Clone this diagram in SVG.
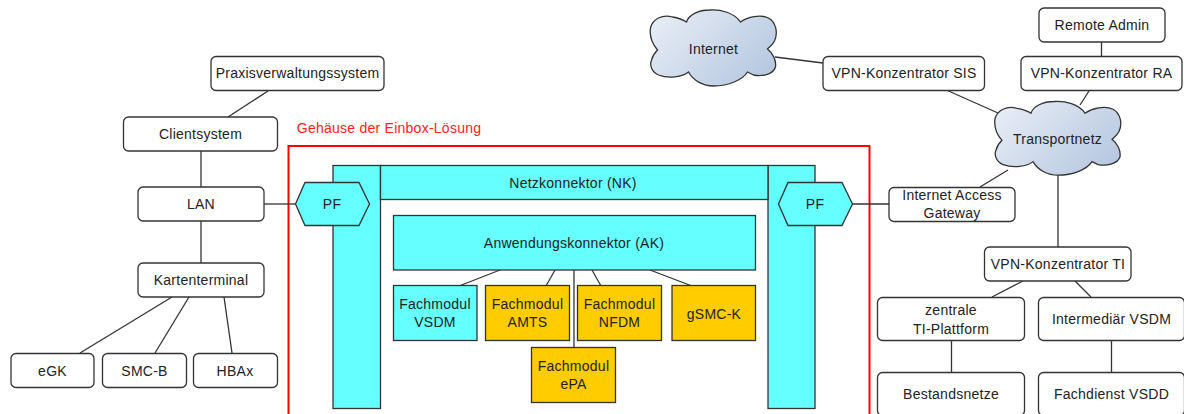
<svg xmlns="http://www.w3.org/2000/svg" width="1184" height="414" viewBox="0 0 1184 414">
<style>
text{font-family:"Liberation Sans",Arial,sans-serif;font-size:14px;letter-spacing:.25px;fill:#222;text-anchor:middle}
.n{fill:#fff;stroke:#333;stroke-width:1.3}
.c{fill:#66ffff;stroke:#333;stroke-width:1.3}
.o{fill:#ffcc00;stroke:#333;stroke-width:1.3}
.k{fill:url(#cg);stroke:#333;stroke-width:1.3}
#connectors line{stroke:#333;stroke-width:1.3}
</style>
<defs>
<linearGradient id="cg" x1="0" y1="0.2" x2="1" y2="0.8"><stop offset="0" stop-color="#e6ecf5"/><stop offset="1" stop-color="#b5c7e0"/></linearGradient>
<path id="cloud" d="M7 40C1 33-1 25 0 18C2 9 12 4 22 7C28 8 33 10 36 12C38 5 48 0 59 0C70-1 84 3 90 12C97 7 110 4 118 8C125 12 128 22 124 31C122 35 119 37 117 39C122 43 126 50 125 57C123 64 112 67 103 65C101 64 99 63 97 62C92 70 78 76 63 76C53 76 43 71 38 62C32 67 18 69 8 65C1 62-1 55 1 50C2 46 4 43 7 40Z"/>
</defs>
<rect width="1184" height="414" fill="#fff"/>
<g id="gehaeuse">
<rect x="288.500" y="146" width="581" height="280" fill="#fff" stroke="#ff0000" stroke-width="2"/>
<text x="389" y="133" style="fill:#ff2020">Gehäuse der Einbox-Lösung</text>
</g>
<g id="connectors">
<line x1="268" y1="91" x2="228" y2="117"/>
<line x1="201" y1="151" x2="201" y2="187"/>
<line x1="201" y1="221" x2="201" y2="263"/>
<line x1="264" y1="204" x2="296" y2="204"/>
<line x1="172" y1="297" x2="80" y2="353"/>
<line x1="189" y1="297" x2="155" y2="353"/>
<line x1="224" y1="297" x2="232" y2="353"/>
<line x1="500" y1="270" x2="459" y2="286"/>
<line x1="555" y1="270" x2="546" y2="286"/>
<line x1="592" y1="270" x2="601" y2="286"/>
<line x1="650" y1="270" x2="692" y2="286"/>
<line x1="574" y1="270" x2="574" y2="348"/>
<line x1="852" y1="204" x2="889" y2="204"/>
<line x1="775" y1="57" x2="823" y2="63"/>
<line x1="944" y1="89" x2="998" y2="113"/>
<line x1="1089" y1="91" x2="1080" y2="105"/>
<line x1="1101.500" y1="42" x2="1101.500" y2="56"/>
<line x1="1008" y1="170" x2="980" y2="187"/>
<line x1="1058" y1="174" x2="1058" y2="247"/>
<line x1="1023" y1="281" x2="992" y2="297"/>
<line x1="1075" y1="281" x2="1091" y2="297"/>
<line x1="951.500" y1="341" x2="951.500" y2="373"/>
<line x1="1111.500" y1="341" x2="1111.500" y2="373"/>
</g>
<g id="praxis"><rect class="n" x="211" y="56.500" width="173" height="34" rx="5"/><text x="297.500" y="78">Praxisverwaltungssystem</text></g>
<g id="client"><rect class="n" x="123.500" y="117" width="154" height="34" rx="5"/><text x="200.500" y="139">Clientsystem</text></g>
<g id="lan"><rect class="n" x="138" y="187" width="126" height="34" rx="5"/><text x="201" y="209">LAN</text></g>
<g id="kt"><rect class="n" x="138" y="263" width="126" height="34" rx="5"/><text x="201" y="285">Kartenterminal</text></g>
<g id="egk"><rect class="n" x="11" y="353.500" width="83" height="34" rx="5"/><text x="52.500" y="376">eGK</text></g>
<g id="smcb"><rect class="n" x="102.500" y="353.500" width="84" height="34" rx="5"/><text x="144.500" y="376">SMC-B</text></g>
<g id="hba"><rect class="n" x="193.500" y="353.500" width="84" height="34" rx="5"/><text x="235" y="376">HBAx</text></g>
<g id="nk">
<rect class="c" x="333" y="165.500" width="47.500" height="243"/>
<rect class="c" x="768" y="165.500" width="47" height="243"/>
<rect class="c" x="380.500" y="165.500" width="387.500" height="34"/>
<text x="573" y="188">Netzkonnektor (NK)</text>
</g>
<g id="pf-left"><polygon class="c" points="305,182.500 359,182.500 369.500,204 359,225.500 305,225.500 295.500,204"/><text x="332" y="209">PF</text></g>
<g id="pf-right"><polygon class="c" points="788,182.500 842,182.500 852.500,204 842,225.500 788,225.500 778.500,204"/><text x="815" y="209">PF</text></g>
<g id="ak"><rect class="c" x="393.500" y="215.500" width="362" height="54.500"/><text x="574" y="248">Anwendungskonnektor (AK)</text></g>
<g id="vsdm"><rect class="c" x="393.500" y="285.500" width="83.500" height="55"/><text x="435" y="309">Fachmodul</text><text x="435" y="327">VSDM</text></g>
<g id="amts"><rect class="o" x="485.500" y="285.500" width="84" height="55"/><text x="527.500" y="309">Fachmodul</text><text x="527.500" y="327">AMTS</text></g>
<g id="nfdm"><rect class="o" x="577.500" y="285.500" width="84" height="55"/><text x="619.500" y="309">Fachmodul</text><text x="619.500" y="327">NFDM</text></g>
<g id="gsmc"><rect class="o" x="672" y="285.500" width="83.500" height="55"/><text x="714" y="319">gSMC-K</text></g>
<g id="epa"><rect class="o" x="531.500" y="347.500" width="84" height="55"/><text x="573.500" y="371">Fachmodul</text><text x="573.500" y="389">ePA</text></g>
<g id="internet"><use href="#cloud" class="k" transform="translate(650.500 10)"/><text x="713.500" y="54">Internet</text></g>
<g id="transport"><use href="#cloud" class="k" transform="translate(995 101.500) scale(1 .97)"/><text x="1057.500" y="144">Transportnetz</text></g>
<g id="sis"><rect class="n" x="823" y="56.500" width="161.500" height="34" rx="5"/><text x="904" y="78">VPN-Konzentrator SIS</text></g>
<g id="ra"><rect class="n" x="1021" y="56.500" width="161" height="34" rx="5"/><text x="1101.500" y="78">VPN-Konzentrator RA</text></g>
<g id="remote"><rect class="n" x="1039" y="8" width="126" height="34" rx="5"/><text x="1102" y="30">Remote Admin</text></g>
<g id="iag"><rect class="n" x="889" y="187.500" width="126" height="34" rx="5"/><text x="952" y="200">Internet Access</text><text x="952" y="218">Gateway</text></g>
<g id="vpnti"><rect class="n" x="984.500" y="247" width="146.500" height="34" rx="5"/><text x="1058" y="269">VPN-Konzentrator TI</text></g>
<g id="zti"><rect class="n" x="877.500" y="297.500" width="147" height="43" rx="5"/><text x="951" y="315">zentrale</text><text x="951" y="334">TI-Plattform</text></g>
<g id="imd"><rect class="n" x="1038.500" y="297.500" width="146" height="43" rx="5"/><text x="1111.500" y="324">Intermediär VSDM</text></g>
<g id="bn"><rect class="n" x="877.500" y="372.500" width="147" height="43" rx="5"/><text x="951" y="399">Bestandsnetze</text></g>
<g id="vsdd"><rect class="n" x="1038.500" y="372.500" width="146" height="43" rx="5"/><text x="1111.500" y="399">Fachdienst VSDD</text></g>
</svg>
